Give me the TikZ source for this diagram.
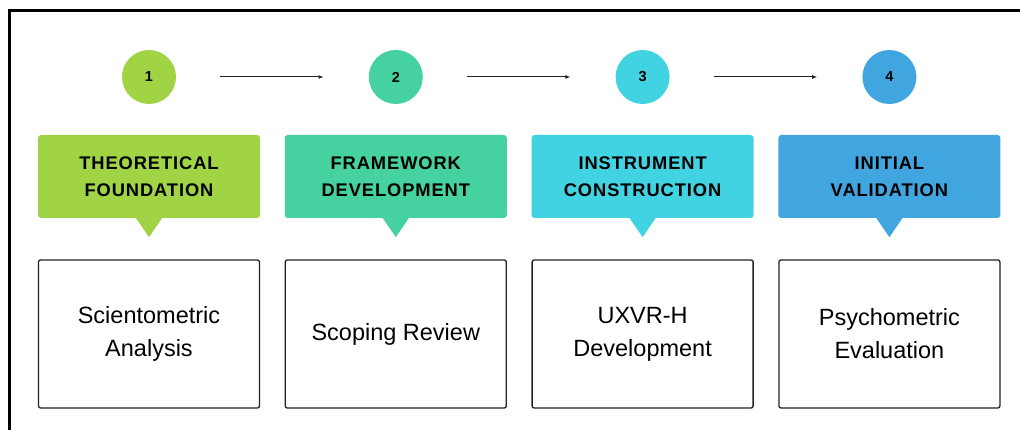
\documentclass[tikz,border=0pt]{standalone}
\usepackage{fontspec}
\setmainfont{Liberation Sans}
\newfontfamily\headfont[LetterSpace=5]{Liberation Sans}
\usetikzlibrary{arrows.meta}

\definecolor{stepgreen}{HTML}{A0D444}
\definecolor{stepteal}{HTML}{45D1A0}
\definecolor{stepcyan}{HTML}{41D3E1}
\definecolor{stepblue}{HTML}{41A5E0}
\definecolor{inkdark}{HTML}{222222}

\begin{document}
\begin{tikzpicture}[
    x=1pt, y=1pt,
    num/.style={circle, minimum size=54pt, inner sep=0pt, font=\headfont\bfseries\fontsize{14.5}{16}\selectfont},
    head/.style={rounded corners=3pt, minimum width=222pt, minimum height=83pt, align=center,
                 font=\headfont\bfseries\fontsize{18.3}{27}\selectfont},
    body/.style={draw=inkdark, line width=1.3pt, rounded corners=2pt, minimum width=221pt, minimum height=148pt,
                 align=center, font=\fontsize{23.5}{33}\selectfont},
    arr/.style={-{Latex[length=5pt,width=4pt]}, line width=1pt, draw=inkdark, shorten <=44pt, shorten >=45pt}
]
    \useasboundingbox (0,0) rectangle (1020,430);
    \draw[line width=3pt] (9.5,-5) -- (9.5,419) -- (1030,419);

    \node[num, fill=stepgreen] (n1) at (149,  353) {1};
    \node[num, fill=stepteal]  (n2) at (395.8,353) {2};
    \node[num, fill=stepcyan]  (n3) at (642.6,353) {3};
    \node[num, fill=stepblue]  (n4) at (889.4,353) {4};

    \node[head, fill=stepgreen] (h1) at (149,  253.5) {THEORETICAL\\FOUNDATION};
    \node[head, fill=stepteal]  (h2) at (395.8,253.5) {FRAMEWORK\\DEVELOPMENT};
    \node[head, fill=stepcyan]  (h3) at (642.6,253.5) {INSTRUMENT\\CONSTRUCTION};
    \node[head, fill=stepblue]  (h4) at (889.4,253.5) {INITIAL\\VALIDATION};

    % pointers under the headers
    \fill[stepgreen] ([xshift=-13pt]h1.south) -- ([xshift=13pt]h1.south) -- ([yshift=-19pt]h1.south) -- cycle;
    \fill[stepteal]  ([xshift=-13pt]h2.south) -- ([xshift=13pt]h2.south) -- ([yshift=-19pt]h2.south) -- cycle;
    \fill[stepcyan]  ([xshift=-13pt]h3.south) -- ([xshift=13pt]h3.south) -- ([yshift=-19pt]h3.south) -- cycle;
    \fill[stepblue]  ([xshift=-13pt]h4.south) -- ([xshift=13pt]h4.south) -- ([yshift=-19pt]h4.south) -- cycle;

    \node[body] (b1) at (149,  96) {Scientometric\\Analysis};
    \node[body] (b2) at (395.8,96) {Scoping Review};
    \node[body] (b3) at (642.6,96) {UXVR-H\\Development};
    \node[body] (b4) at (889.4,96) {Psychometric\\Evaluation};

    \draw[arr] (n1) -- (n2);
    \draw[arr] (n2) -- (n3);
    \draw[arr] (n3) -- (n4);
\end{tikzpicture}
\end{document}
